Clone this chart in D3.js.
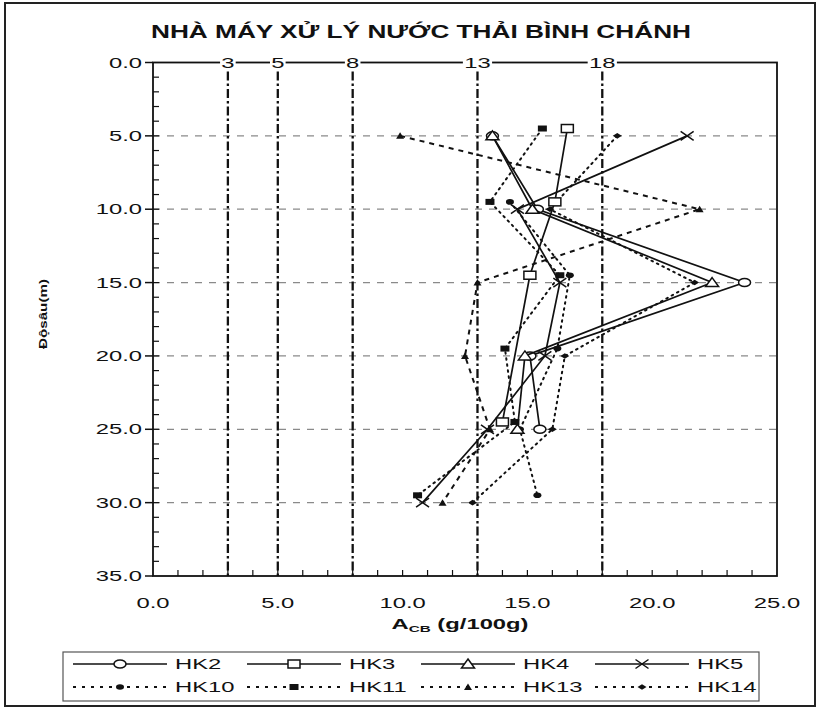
<!DOCTYPE html>
<html><head><meta charset="utf-8">
<script src="https://cdn.jsdelivr.net/npm/d3@7"></script>
<style>
body{margin:0;background:#fff;}
text{font-family:"Liberation Sans",Arial,sans-serif;fill:#111;}
</style></head>
<body><svg id="c" width="820" height="708"></svg>
<script>
const title = "NHÀ MÁY XỬ LÝ NƯỚC THẢI BÌNH CHÁNH";
const yTitle = "Độsâu(m)";
const xTicks = [0, 5, 10, 15, 20, 25];
const yTicks = [0, 5, 10, 15, 20, 25, 30, 35];
const refLines = [3, 5, 8, 13, 18];

const seriesNames = ["HK2","HK3","HK4","HK5","HK10","HK11","HK13","HK14"];
const hk2Depth  = [5, 10, 15, 20, 25];
const hk2Val    = [13.6, 15.4, 23.7, 15.1, 15.5];
const hk3Depth  = [4.5, 9.5, 14.5, 24.5];
const hk3Val    = [16.6, 16.1, 15.1, 14.0];
const hk4Depth  = [5, 10, 15, 20, 25];
const hk4Val    = [13.6, 15.2, 22.4, 14.9, 14.6];
const hk5Depth  = [5, 10, 15, 20, 25, 30];
const hk5Val    = [21.4, 14.6, 16.3, 15.7, 13.4, 10.8];
const hk10Depth = [9.5, 14.5, 19.5, 25, 29.5];
const hk10Val   = [14.3, 16.7, 16.2, 14.7, 15.4];
const hk11Depth = [4.5, 9.5, 14.5, 19.5, 24.5, 29.5];
const hk11Val   = [15.6, 13.5, 16.3, 14.1, 14.5, 10.6];
const hk13Depth = [5, 10, 15, 20, 25, 30];
const hk13Val   = [9.9, 21.9, 13.0, 12.5, 13.5, 11.6];
const hk14Depth = [5, 10, 15, 20, 25, 30];
const hk14Val   = [18.6, 15.9, 21.7, 16.5, 16.0, 12.8];

const depths = [hk2Depth,hk3Depth,hk4Depth,hk5Depth,hk10Depth,hk11Depth,hk13Depth,hk14Depth];
const vals = [hk2Val,hk3Val,hk4Val,hk5Val,hk10Val,hk11Val,hk13Val,hk14Val];

const styles = {
  HK2:{dash:null, marker:"circle"},
  HK3:{dash:null, marker:"square"},
  HK4:{dash:null, marker:"triangle"},
  HK5:{dash:null, marker:"x"},
  HK10:{dash:"1.6,4.5", marker:"fcircle"},
  HK11:{dash:"1.6,4.5", marker:"fsquare"},
  HK13:{dash:"5,5", marker:"ftriangle"},
  HK14:{dash:"1.6,4.5", marker:"fdiamond"}
};

const SX = 1.7; // horizontal stretch of the scanned text
const svg = d3.select("#c");
const L=153, R=777, T=62.5, B=576;
const x = d3.scaleLinear().domain([0,25]).range([L,R]);
const y = d3.scaleLinear().domain([0,35]).range([T,B]);

function stext(px, py, str, size, anchor, bold, sx){
  return svg.append("text").attr("transform",`translate(${px},${py}) scale(${sx||SX},1)`)
    .attr("text-anchor",anchor||"middle").attr("font-size",size)
    .attr("font-weight",bold?"bold":"normal").text(str);
}

// outer frame
svg.append("rect").attr("x",5).attr("y",3).attr("width",810).attr("height",703)
  .attr("fill","none").attr("stroke","#222").attr("stroke-width",2);

// title
svg.append("text").attr("x",421).attr("y",38).attr("text-anchor","middle")
  .attr("font-size",18).attr("font-weight","bold")
  .attr("textLength",540).attr("lengthAdjust","spacingAndGlyphs").text(title);

// horizontal grid
svg.append("g").selectAll("line").data(yTicks.filter(d=>d>0&&d<35)).join("line")
  .attr("x1",L).attr("x2",R).attr("y1",d=>y(d)).attr("y2",d=>y(d))
  .attr("stroke","#8a8a8a").attr("stroke-width",1.2).attr("stroke-dasharray","7,7");

// reference vertical lines
svg.append("g").selectAll("line").data(refLines).join("line")
  .attr("x1",d=>x(d)).attr("x2",d=>x(d)).attr("y1",T+9).attr("y2",B)
  .attr("stroke","#111").attr("stroke-width",2.3).attr("stroke-dasharray","9,3,2.5,3");

// major ticks (left, outward)
svg.append("g").selectAll("line").data(yTicks).join("line")
  .attr("x1",L-8).attr("x2",L).attr("y1",d=>y(d)).attr("y2",d=>y(d))
  .attr("stroke","#111").attr("stroke-width",1.5);
// minor ticks
svg.append("g").selectAll("line").data(d3.range(1,35)).join("line")
  .attr("x1",L).attr("x2",L+6).attr("y1",d=>y(d)).attr("y2",d=>y(d))
  .attr("stroke","#111").attr("stroke-width",1.2);
svg.append("g").selectAll("line").data(d3.range(1,25)).join("line")
  .attr("x1",d=>x(d)).attr("x2",d=>x(d)).attr("y1",B).attr("y2",B-6)
  .attr("stroke","#111").attr("stroke-width",1.2);

// tick labels
yTicks.forEach(v=>stext(L-11, y(v)+5, d3.format(".1f")(v), 14, "end"));
xTicks.forEach(v=>stext(x(v), B+32, d3.format(".1f")(v), 14, "middle"));

// plot frame
svg.append("rect").attr("x",L).attr("y",T).attr("width",R-L).attr("height",B-T)
  .attr("fill","none").attr("stroke","#111").attr("stroke-width",1.8);

// top labels for ref lines
refLines.forEach(v=>{
  const w = (v>=10?16:8)*SX+2;
  svg.append("rect").attr("x",x(v)-w/2).attr("y",T-8).attr("width",w).attr("height",16).attr("fill","#fff");
  stext(x(v), T+5, String(v), 14, "middle");
});

// markers
function marker(g, type){
  const s="#111";
  if(type==="circle") g.append("ellipse").attr("rx",6).attr("ry",4).attr("fill","#fff").attr("stroke",s).attr("stroke-width",1.5);
  else if(type==="square") g.append("rect").attr("x",-6).attr("y",-4).attr("width",12).attr("height",8).attr("fill","#fff").attr("stroke",s).attr("stroke-width",1.5);
  else if(type==="triangle") g.append("path").attr("d","M0,-5L6.5,4L-6.5,4Z").attr("fill","#fff").attr("stroke",s).attr("stroke-width",1.5);
  else if(type==="x") g.append("path").attr("d","M-6.5,-4.5L6.5,4.5M-6.5,4.5L6.5,-4.5").attr("stroke",s).attr("stroke-width",1.5);
  else if(type==="fcircle") g.append("ellipse").attr("rx",4).attr("ry",2.8).attr("fill",s);
  else if(type==="fsquare") g.append("rect").attr("x",-4.5).attr("y",-3).attr("width",9).attr("height",6).attr("fill",s);
  else if(type==="ftriangle") g.append("path").attr("d","M0,-3.5L4,3L-4,3Z").attr("fill",s);
  else if(type==="fdiamond") g.append("path").attr("d","M-4.5,0L0,-2.8L4.5,0L0,2.8Z").attr("fill",s);
}
const line = d3.line().x(d=>x(d.v)).y(d=>y(d.d));
const order = [4,5,6,7,0,1,2,3];
order.forEach(i=>{
  const name = seriesNames[i], st = styles[name];
  const pts = depths[i].map((d,j)=>({d, v:vals[i][j]}));
  svg.append("path").datum(pts).attr("d",line).attr("fill","none").attr("stroke","#111")
    .attr("stroke-width",st.dash?2:1.7).attr("stroke-dasharray",st.dash)
    .attr("stroke-linecap",st.dash&&st.dash.startsWith("1.6")?"round":"butt");
  pts.forEach(p=>{
    const g = svg.append("g").attr("transform",`translate(${x(p.v)},${y(p.d)})`);
    marker(g, st.marker);
  });
});

// y label
svg.append("text").attr("transform","translate(47,314) rotate(-90)").attr("text-anchor","middle")
  .attr("font-size",10).attr("font-weight","bold")
  .attr("textLength",70).attr("lengthAdjust","spacingAndGlyphs").text(yTitle);

// x title
const xt = svg.append("text").attr("transform",`translate(460,629) scale(${SX},1)`).attr("text-anchor","middle")
  .attr("font-size",14).attr("font-weight","bold");
xt.append("tspan").text("A");
xt.append("tspan").attr("font-size",9).attr("dy",3).text("CB");
xt.append("tspan").attr("dy",-3).text(" (g/100g)");

// legend
svg.append("rect").attr("x",63).attr("y",652).attr("width",696).attr("height",49)
  .attr("fill","#fff").attr("stroke","#555").attr("stroke-width",1.2);
seriesNames.forEach((name,i)=>{
  const st = styles[name];
  const col = i%4, row = Math.floor(i/4);
  const lx = 73 + col*174, ly = row===0?664:687;
  const g = svg.append("g");
  g.append("line").attr("x1",lx).attr("x2",lx+94).attr("y1",ly).attr("y2",ly)
    .attr("stroke","#111").attr("stroke-width",st.dash?2:1.3).attr("stroke-dasharray",st.dash?"3,6":null);
  const m = g.append("g").attr("transform",`translate(${lx+47},${ly})`);
  marker(m, st.marker);
  stext(lx+102, ly+5, name, 14, "start");
});
</script></body></html>
